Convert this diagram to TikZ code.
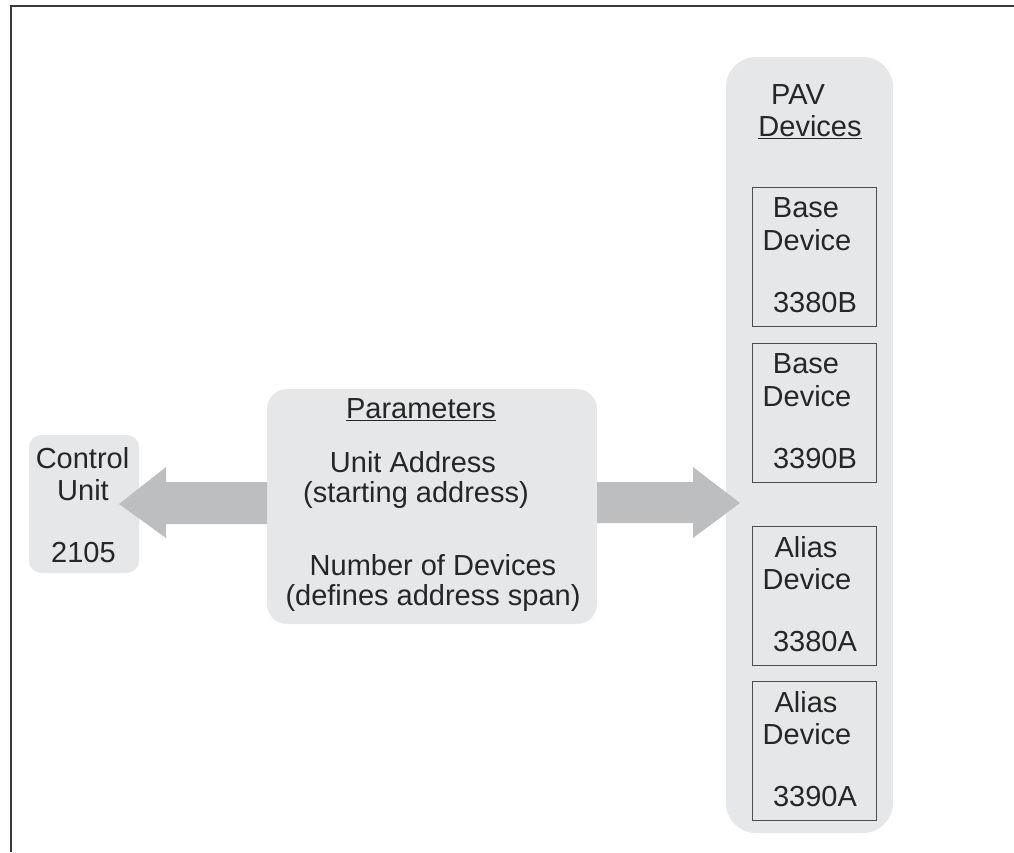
\documentclass[tikz,border=0pt]{standalone}
\usepackage{fontspec}
\setmainfont{Liberation Sans}
\definecolor{panel}{HTML}{E6E7E8}
\definecolor{arrowgray}{HTML}{BCBEC0}
\definecolor{edgegray}{HTML}{4D4D4D}
\definecolor{framegray}{HTML}{3A3A3A}
\tikzset{
  panelbox/.style={fill=panel, draw=none},
  devbox/.style={draw=edgegray, line width=1pt, fill=panel},
  bigarrow/.style={fill=arrowgray, draw=none},
  lbl/.style={inner sep=0pt, anchor=center, font=\fontsize{29}{32}\selectfont, text=black!85},
}
\begin{document}
\begin{tikzpicture}[x=1pt,y=-1pt]
\useasboundingbox (0,0) rectangle (1014,852);
% frame (top and left only)
\draw[framegray, line width=2pt] (10.5,852) -- (10.5,5.5) -- (1014,5.5);

% containers
\fill[panelbox, rounded corners=12pt] (29,435) rectangle (139,573);
\fill[panelbox, rounded corners=20pt] (267,389) rectangle (597,624);
\fill[panelbox, rounded corners=30pt] (726,57) rectangle (893,833);

% block arrows
\fill[bigarrow] (267,482) -- (166,482) -- (166,467) -- (119,504) -- (166,538) -- (166,524) -- (267,524) -- cycle;
\fill[bigarrow] (597,482) -- (693,482) -- (693,467) -- (740,503) -- (693,538) -- (693,523) -- (597,523) -- cycle;

% Control unit text
\node[lbl] (cu1) at (82.5,458) {Control};
\node[lbl] (cu2) at (83,490) {Unit};
\node[lbl] (cu3) at (83.5,553) {2105};

% Parameters text
\node[lbl] (p0) at (421,410) {\underline{Parameters}};
\node[lbl] (p1) at (413,462) {Unit Address};
\node[lbl] (p2) at (416,495) {(starting address)};
\node[lbl] (p3) at (433,565) {Number of Devices};
\node[lbl] (p4) at (433,598) {(defines address span)};

% PAV header
\node[lbl] (pav) at (798,95) {PAV};
\node[lbl] (pavd) at (810,127) {\underline{Devices}};

% device boxes
\draw[devbox] (752,187) rectangle (876,326);
\draw[devbox] (752,343) rectangle (876,482);
\draw[devbox] (752,526) rectangle (876,665);
\draw[devbox] (752,681) rectangle (876,820);

\node[lbl] (b1a) at (806,208) {Base};
\node[lbl] (b1b) at (807,240) {Device};
\node[lbl] (b1c) at (815,303) {3380B};

\node[lbl] (b2a) at (806,364) {Base};
\node[lbl] (b2b) at (807,396) {Device};
\node[lbl] (b2c) at (815,459) {3390B};

\node[lbl] (b3a) at (806,547) {Alias};
\node[lbl] (b3b) at (807,579) {Device};
\node[lbl] (b3c) at (815,642) {3380A};

\node[lbl] (b4a) at (806,702) {Alias};
\node[lbl] (b4b) at (807,734) {Device};
\node[lbl] (b4c) at (815,797) {3390A};
\end{tikzpicture}
\end{document}
